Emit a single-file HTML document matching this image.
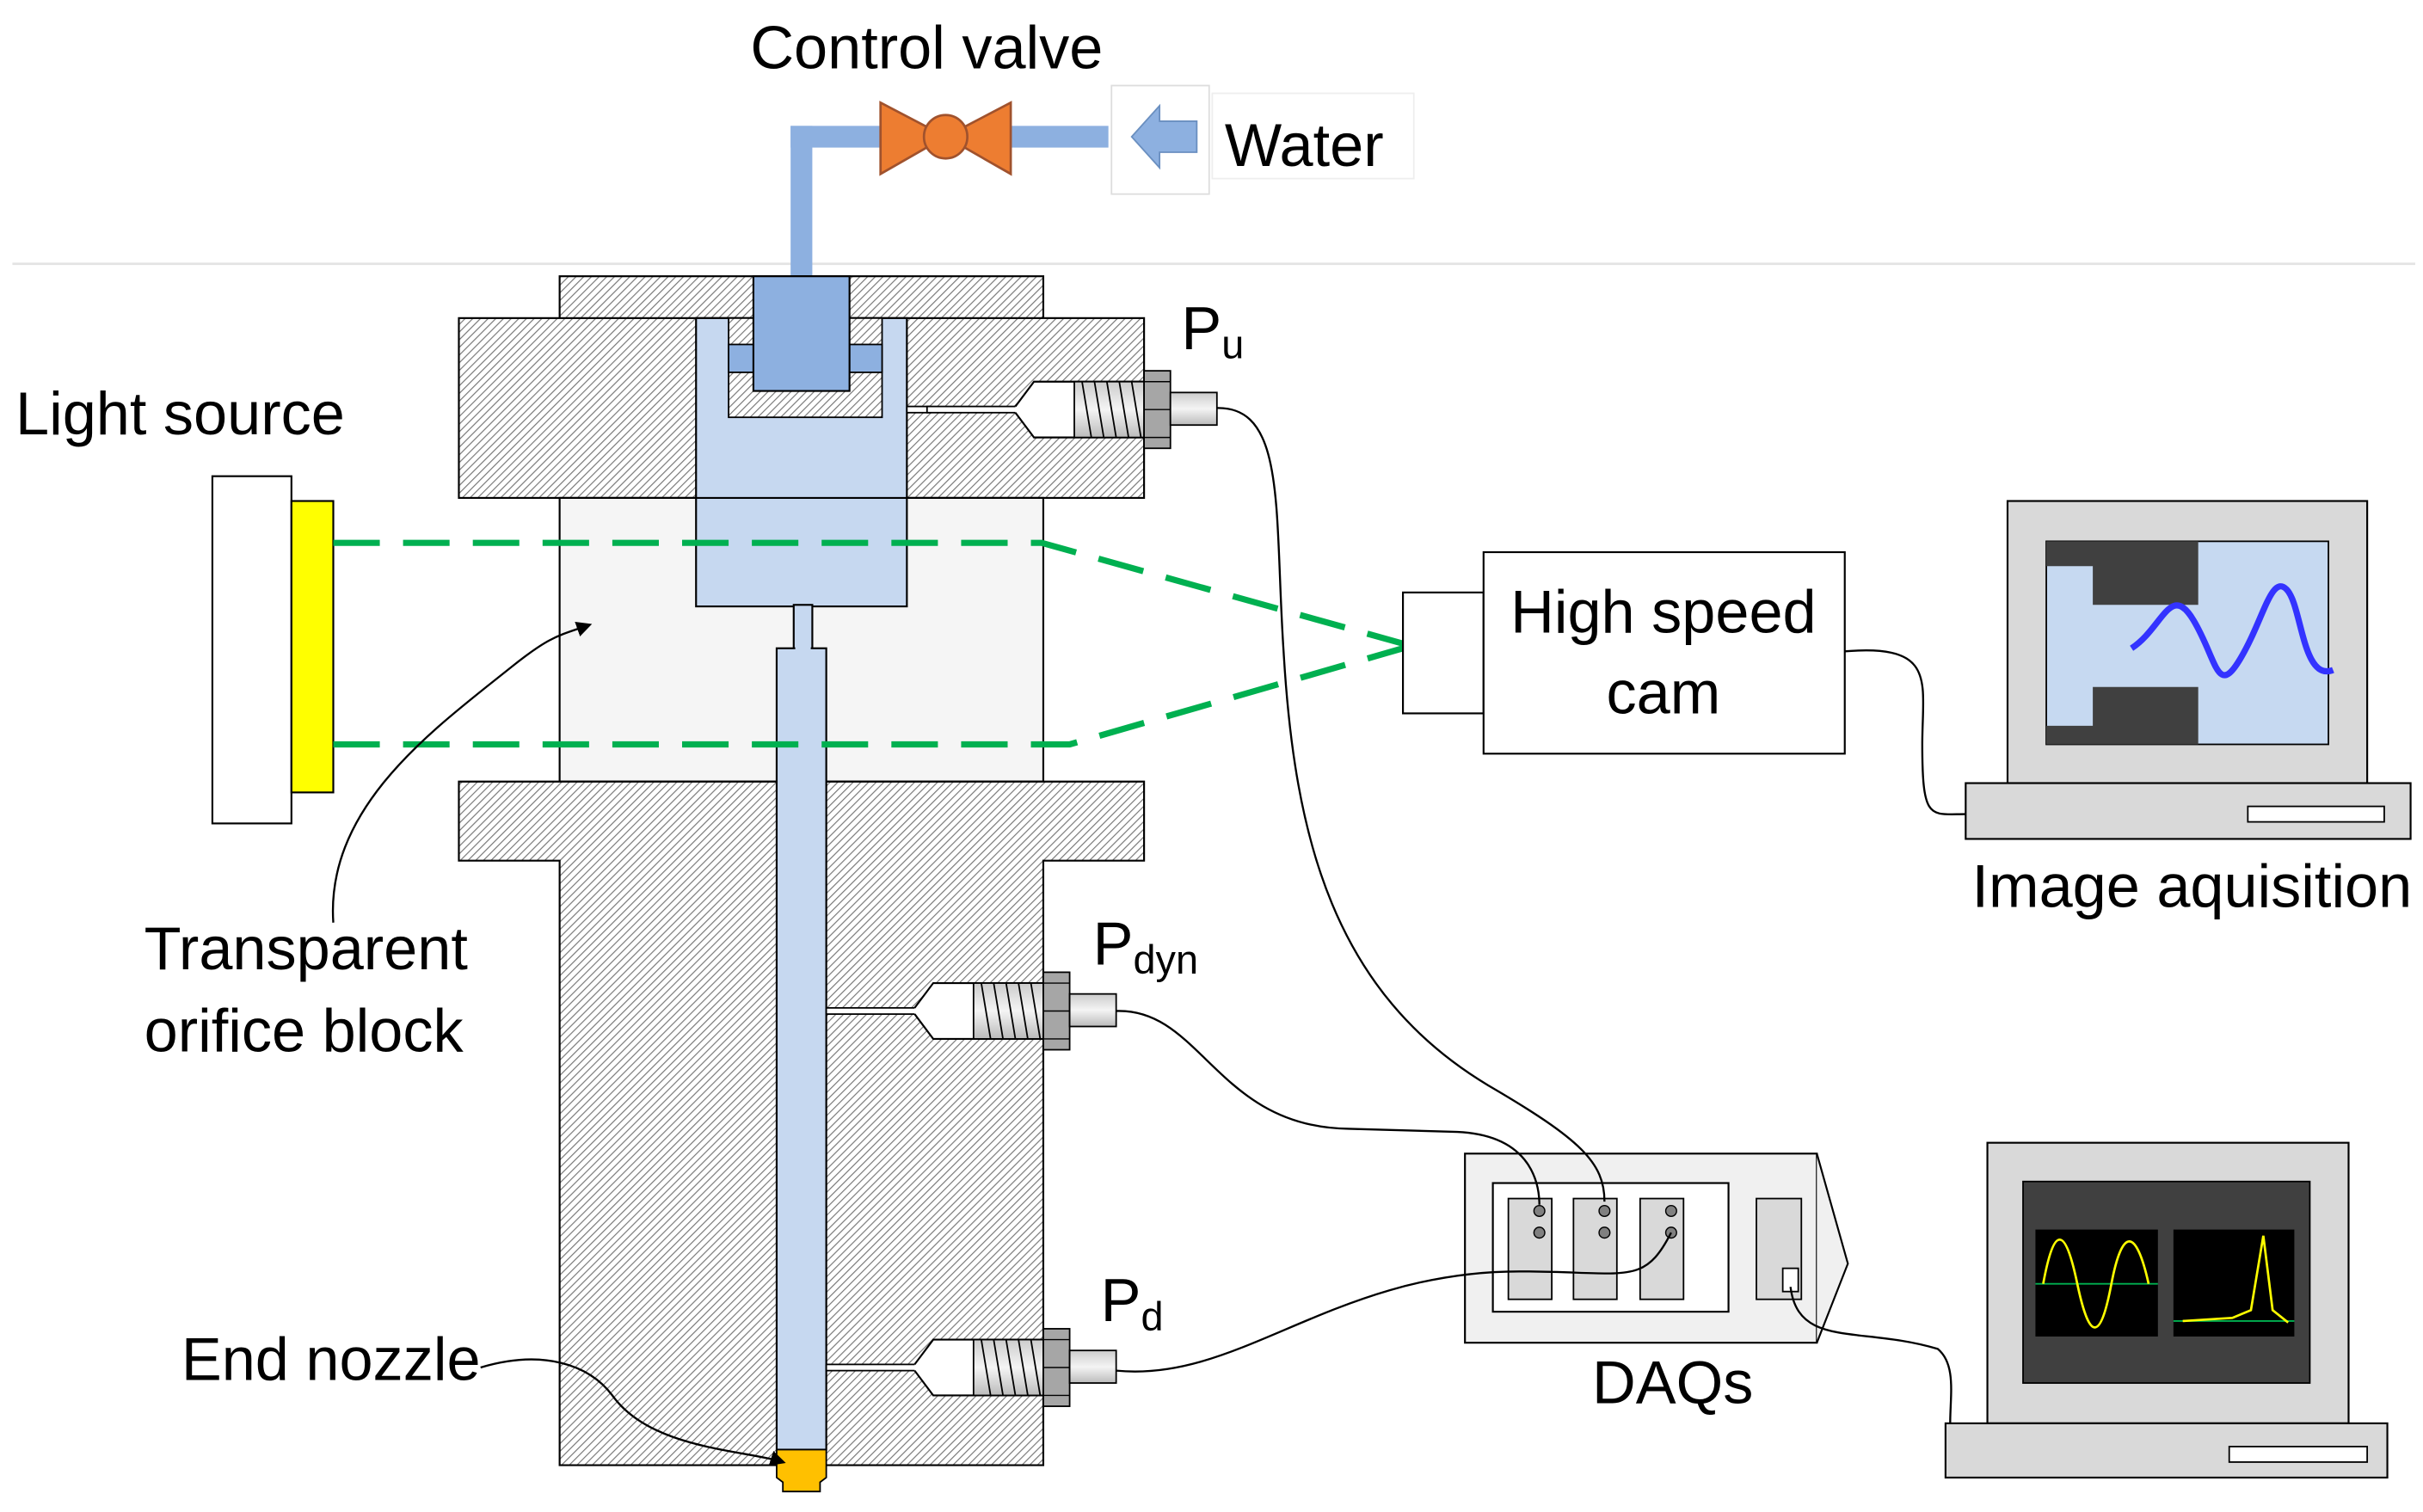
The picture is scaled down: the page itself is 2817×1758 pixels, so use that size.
<!DOCTYPE html>
<html><head><meta charset="utf-8"><style>html,body{margin:0;padding:0;background:#fff}svg{display:block}text{font-family:"Liberation Sans",sans-serif;fill:#000}</style></head>
<body>
<svg width="2817" height="1758" viewBox="0 0 1563 975" xmlns="http://www.w3.org/2000/svg">
<defs>
<pattern id="h" patternUnits="userSpaceOnUse" width="3.5" height="3.5" patternTransform="rotate(45)">
<rect width="3.5" height="3.5" fill="#fff"/><line x1="0" y1="0" x2="0" y2="3.5" stroke="#777" stroke-width="1.3"/>
</pattern>
<linearGradient id="g" x1="0" y1="0" x2="0" y2="1"><stop offset="0" stop-color="#ccc"/><stop offset="0.5" stop-color="#f4f4f4"/><stop offset="1" stop-color="#bbb"/></linearGradient>
<marker id="ar" markerWidth="10" markerHeight="10" refX="8" refY="5" orient="auto" markerUnits="userSpaceOnUse"><path d="M0,0 L10,5 L0,10 z" fill="#000"/></marker>
<g id="port">
<rect x="0" y="-2" width="60" height="4" fill="#fff" stroke="#000" stroke-width="1"/>
<path d="M57,-2 L69,-18 L140,-18 L140,18 L69,18 L57,2" fill="#fff" stroke="#000" stroke-width="1.2"/>
<rect x="95" y="-18" width="45" height="36" fill="url(#g)" stroke="#000" stroke-width="1"/>
<path d="M100,-18 L106,18 M108,-18 L114,18 M116,-18 L122,18 M124,-18 L130,18 M132,-18 L138,18" stroke="#000" stroke-width="1"/>
<rect x="140" y="-25" width="17" height="50" fill="#a6a6a6" stroke="#000" stroke-width="1"/>
<path d="M140,-18 H157 M140,0 H157 M140,18 H157" stroke="#000" stroke-width="0.8"/>
<rect x="157" y="-11" width="30" height="21" fill="url(#g)" stroke="#000" stroke-width="1"/>
</g>
</defs>
<line x1="8" y1="170" x2="1558" y2="170" stroke="#e3e3e3" stroke-width="1.5"/>
<!-- pipe -->
<rect x="510" y="81" width="14" height="100" fill="#8db0e0"/>
<rect x="510" y="81" width="205" height="14" fill="#8db0e0"/>
<!-- valve -->
<path d="M568,66 L610,88 L568,112 Z M652,66 L610,88 L652,112 Z" fill="#ed7d31" stroke="#a0522d" stroke-width="1.5"/>
<circle cx="610" cy="88" r="14" fill="#ed7d31" stroke="#a0522d" stroke-width="1.5"/>
<text x="484" y="44" font-size="39">Control valve</text>
<rect x="717" y="55" width="63" height="70" fill="#fff" stroke="#ddd"/>
<path d="M730,88 L748,68 L748,78 L772,78 L772,98 L748,98 L748,108 Z" fill="#8db0e0" stroke="#6a8fc0"/>
<rect x="782" y="60" width="130" height="55" fill="#fff" stroke="#eee"/>
<text x="790" y="107" font-size="39">Water</text>
<!-- top -->
<rect x="361" y="178" width="312" height="100" fill="url(#h)" stroke="#000" stroke-width="1.2"/>
<rect x="296" y="205" width="442" height="116" fill="url(#h)" stroke="#000" stroke-width="1.2"/>
<rect x="361" y="321" width="312" height="183" fill="#f5f5f5" stroke="#000" stroke-width="1.2"/>
<!-- chamber -->
<rect x="449" y="205" width="136" height="186" fill="#c6d8f0" stroke="#000" stroke-width="1.2"/>
<rect x="470" y="205" width="99" height="64" fill="url(#h)" stroke="#000" stroke-width="1"/>
<rect x="470" y="222" width="99" height="18" fill="#8db0e0" stroke="#000" stroke-width="1"/>
<rect x="486" y="178" width="62" height="74" fill="#8db0e0" stroke="#000" stroke-width="1.2"/>
<line x1="449" y1="321" x2="585" y2="321" stroke="#000" stroke-width="1.2"/>
<rect x="512" y="390" width="12" height="30" fill="#c6d8f0" stroke="#000" stroke-width="1.2"/>
<rect x="585" y="262" width="15" height="4" fill="#fff" stroke="#000" stroke-width="1"/>
<use href="#port" x="598" y="264"/>
<!-- lower body -->
<path d="M296,504 H738 V555 H673 V945 H361 V555 H296 Z" fill="url(#h)" stroke="#000" stroke-width="1.2"/>
<rect x="501" y="418" width="32" height="517" fill="#c6d8f0" stroke="#000" stroke-width="1.2"/>
<rect x="513" y="412" width="10" height="10" fill="#c6d8f0"/>
<use href="#port" x="533" y="652"/>
<use href="#port" x="533" y="882"/>
<path d="M501,935 H533 V953 L529,956 V962 H505 V956 L501,953 Z" fill="#ffc000" stroke="#000" stroke-width="1"/>
<!-- light source -->
<rect x="137" y="307" width="51" height="224" fill="#fff" stroke="#000" stroke-width="1.2"/>
<rect x="188" y="323" width="27" height="188" fill="#ffff00" stroke="#000" stroke-width="1.2"/>
<text x="10" y="280" font-size="39">Light source</text>
<path d="M215,350 H672 L905,415 M215,480 H690 L905,418" fill="none" stroke="#00b050" stroke-width="4" stroke-dasharray="30,15"/>
<!-- camera -->
<rect x="905" y="382" width="52" height="78" fill="#fff" stroke="#000" stroke-width="1.2"/>
<rect x="957" y="356" width="233" height="130" fill="#fff" stroke="#000" stroke-width="1.2"/>
<text x="1073" y="408" font-size="39" text-anchor="middle">High speed</text>
<text x="1073" y="460" font-size="39" text-anchor="middle">cam</text>
<!-- monitor 1 -->
<rect x="1295" y="323" width="232" height="182" fill="#d9d9d9" stroke="#000" stroke-width="1.2"/>
<rect x="1320" y="349" width="182" height="131" fill="#c6d9f1" stroke="#000" stroke-width="1"/>
<path d="M1320,349 H1418 V390 H1350 V365 H1320 Z" fill="#404040"/>
<path d="M1350,443 H1418 V480 H1320 V468 H1350 Z" fill="#404040"/>
<path d="M1375,418 C1395,405 1400,375 1415,400 S1430,450 1445,425 S1465,370 1475,380 S1485,440 1505,432" fill="none" stroke="#3333ff" stroke-width="4"/>
<rect x="1268" y="505" width="287" height="36" fill="#d9d9d9" stroke="#000" stroke-width="1.2"/>
<rect x="1450" y="520" width="88" height="10" fill="#fff" stroke="#000"/>
<text x="1272" y="585" font-size="39">Image aquisition</text>
<path d="M1190,420 C1250,415 1240,440 1240,480 C1240,530 1245,525 1268,525" fill="none" stroke="#000" stroke-width="1.3"/>
<!-- monitor 2 -->
<rect x="1282" y="737" width="233" height="181" fill="#d9d9d9" stroke="#000" stroke-width="1.2"/>
<rect x="1305" y="762" width="185" height="130" fill="#404040" stroke="#000"/>
<rect x="1313" y="793" width="79" height="69" fill="#000"/>
<rect x="1402" y="793" width="78" height="69" fill="#000"/>
<line x1="1313" y1="828" x2="1392" y2="828" stroke="#00b050"/>
<line x1="1402" y1="852" x2="1480" y2="852" stroke="#00b050"/>
<path d="M1318,828 C1325,790 1332,790 1340,828 S1355,865 1362,828 S1378,792 1386,828" fill="none" stroke="#ffff00" stroke-width="1.5"/>
<path d="M1408,852 L1440,850 L1452,845 L1460,797 L1466,845 L1476,853" fill="none" stroke="#ffff00" stroke-width="1.5"/>
<rect x="1255" y="918" width="285" height="35" fill="#d9d9d9" stroke="#000" stroke-width="1.2"/>
<rect x="1438" y="933" width="89" height="10" fill="#fff" stroke="#000"/>
<!-- DAQ -->
<rect x="945" y="744" width="227" height="122" fill="#f0f0f0" stroke="#000" stroke-width="1.2"/>
<path d="M1172,744 L1192,815 L1172,866" fill="#f0f0f0" stroke="#000" stroke-width="1.2"/>
<rect x="963" y="763" width="152" height="83" fill="#fff" stroke="#000" stroke-width="1.2"/>
<g fill="#d9d9d9" stroke="#000" stroke-width="1"><rect x="973" y="773" width="28" height="65"/><rect x="1015" y="773" width="28" height="65"/><rect x="1058" y="773" width="28" height="65"/><rect x="1133" y="773" width="29" height="65"/></g>
<rect x="1150" y="818" width="10" height="15" fill="#fff" stroke="#000"/>
<g fill="#808080" stroke="#000" stroke-width="0.8"><circle cx="993" cy="781" r="3.5"/><circle cx="993" cy="795" r="3.5"/><circle cx="1035" cy="781" r="3.5"/><circle cx="1035" cy="795" r="3.5"/><circle cx="1078" cy="781" r="3.5"/><circle cx="1078" cy="795" r="3.5"/></g>
<text x="1027" y="905" font-size="39">DAQs</text>
<!-- cables -->
<g fill="none" stroke="#000" stroke-width="1.3">
<path d="M785,263 C830,262 822,330 828,420 C835,540 860,640 960,700 C1020,735 1035,750 1035,775"/>
<path d="M720,652 C775,650 785,727 870,728 L940,730 C985,732 993,760 993,777"/>
<path d="M720,884 C800,892 860,820 980,820 C1050,820 1060,830 1078,795"/>
<path d="M1155,830 C1160,870 1200,855 1250,870 C1262,880 1258,900 1258,918"/>
<path d="M215,595 C210,520 280,470 330,430 C355,410 360,410 380,403" marker-end="url(#ar)"/>
<path d="M310,882 C350,870 380,880 395,900 C420,935 480,935 505,943" marker-end="url(#ar)"/>
</g>
<text x="93" y="625" font-size="39">Transparent</text>
<text x="93" y="678" font-size="39">orifice block</text>
<text x="117" y="890" font-size="39">End nozzle</text>
<text x="762" y="225" font-size="39">P<tspan font-size="26" dy="6">u</tspan></text>
<text x="705" y="622" font-size="39">P<tspan font-size="26" dy="6">dyn</tspan></text>
<text x="710" y="852" font-size="39">P<tspan font-size="26" dy="6">d</tspan></text>
</svg>
</body></html>
